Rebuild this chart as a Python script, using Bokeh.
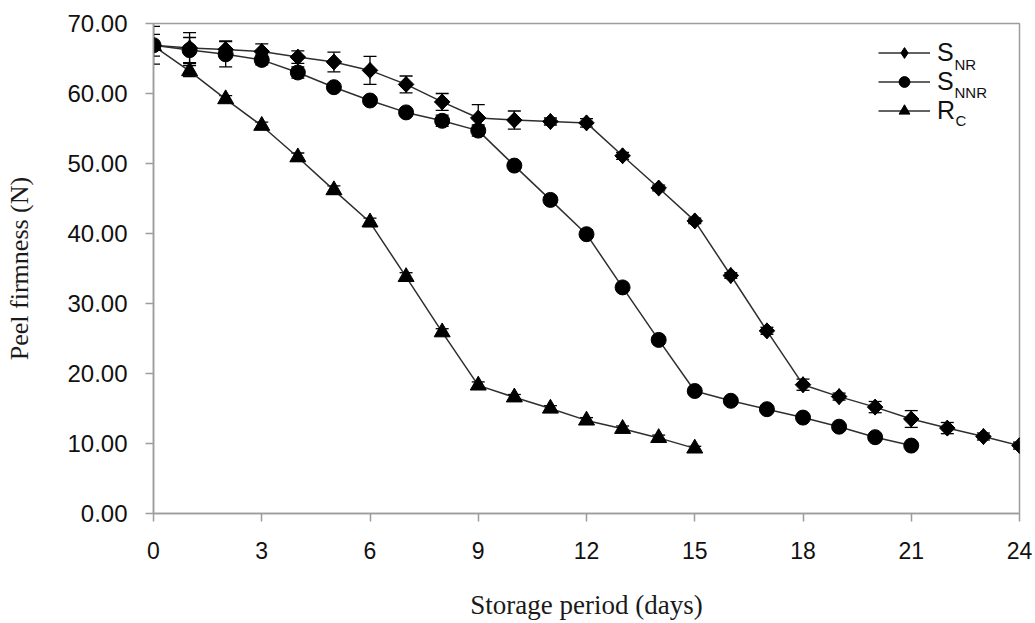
import math

from bokeh.plotting import figure
from bokeh.models import (Range1d, FixedTicker, PrintfTickFormatter, ColumnDataSource,
                          Whisker, TeeHead, Legend, LegendItem, Label)
from bokeh.embed import file_html
from bokeh.resources import INLINE

# Peel firmness (N) over storage period (days), mean and error per treatment
days_snr = list(range(0, 25))
snr = [66.9, 66.5, 66.3, 66.0, 65.2, 64.5, 63.3, 61.3, 58.8, 56.5, 56.2, 56.0, 55.8,
       51.1, 46.5, 41.8, 34.0, 26.1, 18.4, 16.7, 15.2, 13.5, 12.2, 11.0, 9.7]
snr_err = [2.7, 2.2, 1.2, 1.1, 0.9, 1.4, 2.0, 1.2, 1.2, 1.9, 1.3, 0.5, 0.6,
           0.5, 0.4, 0.4, 0.4, 0.5, 0.8, 0.5, 0.8, 1.2, 0.8, 0.5, 0.5]

days_snnr = list(range(0, 22))
snnr = [66.9, 66.2, 65.6, 64.8, 63.0, 60.9, 59.0, 57.3, 56.1, 54.7, 49.7, 44.8,
        39.9, 32.3, 24.8, 17.5, 16.1, 14.9, 13.7, 12.4, 10.9, 9.7]
snnr_err = [1.55, 1.8, 1.8, 0.7, 0.8, 0.5, 0.5, 0.5, 0.8, 0.8, 0.5, 0.5,
            0.6, 0.4, 0.4, 0.4, 0.4, 0.4, 0.3, 0.3, 0.3, 0.3]

days_rc = list(range(0, 16))
rc = [66.8, 63.2, 59.2, 55.4, 50.9, 46.2, 41.6, 33.8, 25.9, 18.3, 16.6, 15.0,
      13.3, 12.1, 10.8, 9.3]
rc_err = [0.4, 0.8, 0.5, 0.5, 0.6, 0.6, 0.6, 0.6, 0.5, 0.5, 0.4, 0.4,
          0.4, 0.4, 0.4, 0.3]

x_ticks = [0, 3, 6, 9, 12, 15, 18, 21, 24]
y_ticks = [0, 10, 20, 30, 40, 50, 60, 70]

# (label, subscript, x, y, error, marker, size)
series = [
    ("S", "NR", days_snr, snr, snr_err, "diamond", 16),
    ("S", "NNR", days_snnr, snnr, snnr_err, "circle", 15),
    ("R", "C", days_rc, rc, rc_err, "triangle", 16),
]

AXIS_GREY = "#9d9d9d"

p = figure(width=1035, height=623, output_backend="svg", toolbar_location=None,
           x_range=Range1d(0, 24), y_range=Range1d(0, 70),
           min_border_left=153, min_border_right=16, min_border_top=23,
           min_border_bottom=110)

p.xgrid.visible = False
p.ygrid.visible = False
p.outline_line_color = AXIS_GREY
p.outline_line_width = 1.5
p.background_fill_color = "white"
p.border_fill_color = "white"

p.xaxis.ticker = FixedTicker(ticks=x_ticks)
p.yaxis.ticker = FixedTicker(ticks=y_ticks)
p.yaxis.formatter = PrintfTickFormatter(format="%.2f")

for ax in (p.xaxis[0], p.yaxis[0]):
    ax.axis_line_color = AXIS_GREY
    ax.axis_line_width = 1.5
    ax.major_tick_line_color = AXIS_GREY
    ax.major_tick_line_width = 1.5
    ax.major_tick_out = 8
    ax.major_tick_in = 0
    ax.minor_tick_line_color = None
    ax.major_label_text_font = "Liberation Sans"
    ax.major_label_text_color = "#111111"
    ax.axis_label_text_font = "Liberation Serif"
    ax.axis_label_text_font_style = "normal"
    ax.axis_label_text_color = "#1a1a1a"

p.xaxis.axis_label = "Storage period (days)"
p.xaxis.axis_label_text_font_size = "27px"
p.xaxis.major_label_text_font_size = "23px"
p.xaxis.major_label_standoff = 20
p.xaxis.axis_label_standoff = 28

p.yaxis.axis_label = "Peel firmness (N)"
p.yaxis.axis_label_text_font_size = "26px"
p.yaxis.major_label_text_font_size = "24px"
p.yaxis.major_label_standoff = 18
p.yaxis.axis_label_standoff = 30

items = []
for main, sub, xs, ys, errs, marker, msize in series:
    src = ColumnDataSource(dict(
        x=xs, y=ys,
        lo=[v - e for v, e in zip(ys, errs)],
        hi=[v + e for v, e in zip(ys, errs)],
    ))
    whisk = Whisker(base="x", upper="hi", lower="lo", source=src,
                    line_color="black", line_width=1.3,
                    upper_head=TeeHead(size=13, line_color="black", line_width=1.3),
                    lower_head=TeeHead(size=13, line_color="black", line_width=1.3))
    p.add_layout(whisk)
    ln = p.line("x", "y", source=src, line_color="#2e2e2e", line_width=1.5)
    mk = p.scatter("x", "y", source=src, marker=marker, size=msize,
                   fill_color="black", line_color="black")
    if marker == "diamond":
        # wider diamond body: a square turned by 45 degrees under the diamond
        p.scatter("x", "y", source=src, marker="square", size=11, angle=math.pi / 4,
                  fill_color="black", line_color="black")
    items.append(LegendItem(label=main, renderers=[ln, mk]))

legend = Legend(items=items, location=(725, 388),
                glyph_width=52, glyph_height=27, label_height=27,
                spacing=-1, padding=0, margin=0, label_standoff=7,
                border_line_color=None, background_fill_alpha=0,
                label_text_font="Liberation Sans", label_text_font_size="25px",
                label_text_color="#111111")
p.add_layout(legend)

# subscripts for the legend labels
sub_pos = [(801, 449), (801, 421), (802, 393)]
for (main, sub, *_), (sx, sy) in zip(series, sub_pos):
    p.add_layout(Label(x=sx, y=sy, x_units="screen", y_units="screen", text=sub,
                       text_font="Liberation Sans", text_font_size="15px",
                       text_color="#111111", text_baseline="alphabetic"))

open("out.html", "w").write(file_html(p, INLINE))
